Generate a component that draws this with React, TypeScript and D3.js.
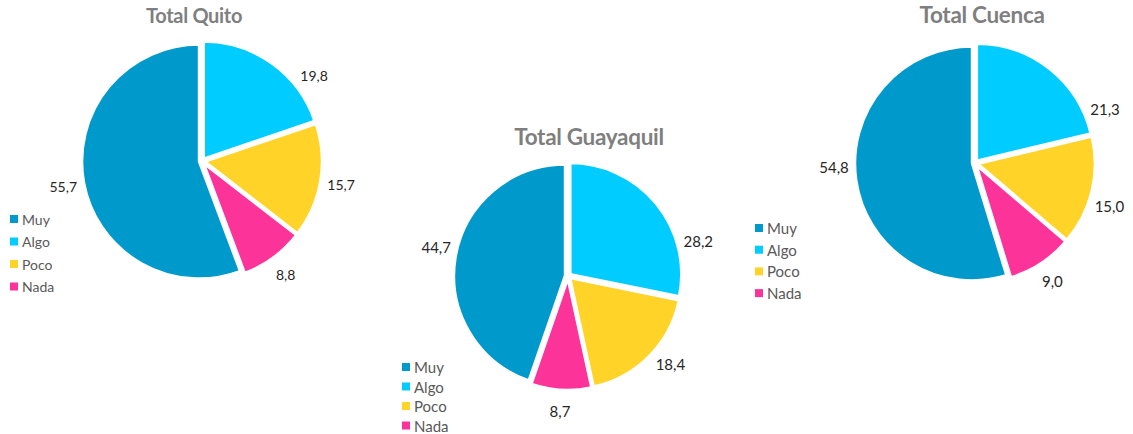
import React from "react"
import * as d3 from "d3"

// categories and colours (legend order)
const categories = ["Muy", "Algo", "Poco", "Nada"]
const colors = ["#0099cc", "#00ccff", "#ffd327", "#fc3399"]

// values per city, same order as categories
const quito = [55.7, 19.8, 15.7, 8.8]
const guayaquil = [44.7, 28.2, 18.4, 8.7]
const cuenca = [54.8, 21.3, 15.0, 9.0]

const titles = ["Total Quito", "Total Guayaquil", "Total Cuenca"]

const fmt = d3.formatLocale({ decimal: ",", thousands: ".", grouping: [3], currency: ["", ""] }).format(".1f")

const layouts = [
    { cx: 202, cy: 161, r: 117, tx: 194, ty: 23, ts: 20, lx: 10, ly: 219, lstep: 22.5, lfs: 14, fs: 14, nudge: [0, 17, 0, 0] },
    { cx: 568, cy: 276, r: 111, tx: 589, ty: 145, ts: 22.5, lx: 402, ly: 367, lstep: 19.5, lfs: 15, fs: 15, nudge: [3, 24, -4, 0] },
    { cx: 975, cy: 163, r: 117, tx: 982, ty: 23, ts: 22.5, lx: 755, ly: 228, lstep: 21.7, lfs: 15, fs: 15, nudge: [7, 29, 4, 0] },
]

function Pie({ values, title, layout }) {
    const total = d3.sum(values)
    // Muy ends at 12 o'clock, the rest follow clockwise
    const start = -(values[0] / total) * 2 * Math.PI
    const pie = d3.pie<number>().sort(null).startAngle(start).endAngle(start + 2 * Math.PI)
    const arcs = pie(values)
    const arc = d3.arc<d3.PieArcDatum<number>>().innerRadius(0).outerRadius(layout.r)
    const explode = 3

    return (
        <g>
            <text x={layout.tx} y={layout.ty} textAnchor="middle" fontSize={layout.ts}
                fontWeight="bold" fill="#7f7f7f" letterSpacing={-0.3}>{title}</text>
            <g transform={`translate(${layout.cx},${layout.cy})`}>
                {arcs.map((a, i) => {
                    const mid = (a.startAngle + a.endAngle) / 2
                    const dx = Math.sin(mid) * explode
                    const dy = -Math.cos(mid) * explode
                    return (
                        <path key={i} d={arc(a)} transform={`translate(${dx},${dy})`}
                            fill={colors[i]} stroke="#fff" strokeWidth={2.5} strokeLinejoin="round" />
                    )
                })}
                {arcs.map((a, i) => {
                    const mid = (a.startAngle + a.endAngle) / 2 + (layout.nudge[i] * Math.PI) / 180
                    const lr = layout.r + 24
                    return (
                        <text key={i} x={Math.sin(mid) * lr} y={-Math.cos(mid) * lr}
                            textAnchor="middle" dominantBaseline="central"
                            fontSize={layout.fs} fill="#262626">{fmt(a.data)}</text>
                    )
                })}
            </g>
            <g transform={`translate(${layout.lx},${layout.ly})`}>
                {categories.map((c, i) => (
                    <g key={c} transform={`translate(0,${i * layout.lstep})`}>
                        <rect x={0} y={-4} width={8} height={8} fill={colors[i]} />
                        <text x={12} y={0} dominantBaseline="central" fontSize={layout.lfs} fill="#595959">{c}</text>
                    </g>
                ))}
            </g>
        </g>
    )
}

export default function App() {
    const series = [quito, guayaquil, cuenca]
    return (
        <svg width={1133} height={434} style={{ position: "absolute", left: 0, top: 0, fontFamily: "Lato, 'Open Sans', sans-serif" }}>
            <rect width={1133} height={434} fill="#fff" />
            {series.map((v, i) => (
                <Pie key={titles[i]} values={v} title={titles[i]} layout={layouts[i]} />
            ))}
        </svg>
    )
}
